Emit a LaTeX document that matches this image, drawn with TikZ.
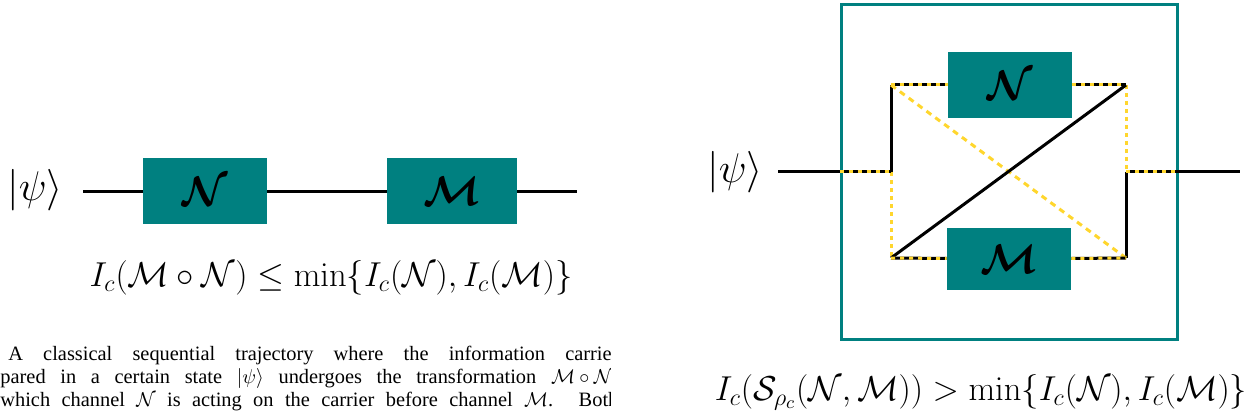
\documentclass[tikz,border=0pt]{standalone}
\usepackage[no-math]{fontspec}
\setmainfont{Liberation Serif}
\usepackage{amsmath}
\usepackage{bm}
\usetikzlibrary{positioning}

\definecolor{chanteal}{RGB}{0,128,128}
\definecolor{gold}{RGB}{255,214,45}

\begin{document}
\begin{tikzpicture}[
  x=0.5pt, y=-0.5pt,
  chan/.style={rectangle, fill=chanteal, minimum width=62pt, minimum height=33pt, inner sep=0pt, font=\fontsize{20}{24}\selectfont},
  wire/.style={line width=1.5pt, black},
  mixed/.style={wire, postaction={draw=gold, dash pattern=on 2pt off 2.5pt}},
  yel/.style={draw=gold, line width=1.5pt, dash pattern=on 2pt off 2pt},
  ket/.style={font=\fontsize{21}{25}\selectfont, inner sep=0pt},
  eq/.style={font=\fontsize{17.2}{20}\selectfont, inner sep=0pt},
  captext/.style={anchor=base west, inner sep=0pt, align=left, font=\fontsize{10.2}{11.5}\selectfont}
]
\useasboundingbox (0,0) rectangle (1248,417);

% Sequential trajectory
\node[ket] (psiA) at (35,190) {$|\psi\rangle$};
\coordinate (inA) at (83,191);
\node[chan] (NA) at (205,191) {$\bm{\mathcal{N}}$};
\node[chan, minimum width=65pt] (MA) at (452,191) {$\bm{\mathcal{M}}$};
\coordinate (outA) at (577,191);
\draw[wire] (inA) -- (NA) -- (MA) -- (outA);

\node[eq] (capA) at (331,278) {$I_c(\mathcal{M}\circ\mathcal{N}) \leq \min\{I_c(\mathcal{N}), I_c(\mathcal{M})\}$};

% Caption (cut at the edge)
\begin{scope}
\clip (0,330) rectangle (610,417);
\node[captext] (capL) at (0,406) {\hspace*{4pt}\makebox[305pt][s]{A classical sequential trajectory where the information carrier}\\
  \makebox[309pt][s]{pared in a certain state \mbox{$|\psi\rangle$} undergoes the transformation \mbox{$\mathcal{M}\circ\mathcal{N}$},}\\
  \makebox[309pt][s]{which channel $\mathcal{N}$ is acting on the carrier before channel $\mathcal{M}$. Both}};
\end{scope}

% Superposition of orders
\node[draw=chanteal, line width=1.5pt, minimum width=168pt, minimum height=167pt, inner sep=0pt] (frame) at (1009,172) {};
\node[ket] (psiB) at (735,172) {$|\psi\rangle$};
\coordinate (inB) at (778,172);
\coordinate (outB) at (1240,172);
\coordinate (jl) at (891,172);
\coordinate (tl) at (891,85);
\coordinate (bl) at (891,258);
\coordinate (jr) at (1126,172);
\coordinate (tr) at (1126,85);
\coordinate (br) at (1126,258);
\node[chan] (NB) at (1010,85) {$\bm{\mathcal{N}}$};
\node[chan, minimum height=31pt] (MB) at (1009,259) {$\bm{\mathcal{M}}$};

\draw[wire] (inB) -- (frame.west);
\draw[wire] (frame.east) -- (outB);
\draw[wire] (jl) -- (tl);
\draw[wire] (jr) -- (br);
\draw[yel] (jl) -- (bl);
\draw[yel] (tr) -- (jr);
\draw[yel, dash pattern=on 3pt off 2.5pt] (tl) -- (br);
\draw[wire] (bl) -- (tr);
\foreach \a/\b in {frame.west/jl, tl/NB, NB/tr, bl/MB, MB/br, jr/frame.east}
  \draw[mixed] (\a) -- (\b);

\node[eq] (capB) at (981,392) {$I_c(\mathcal{S}_{\rho_c}(\mathcal{N},\mathcal{M})) > \min\{I_c(\mathcal{N}), I_c(\mathcal{M})\}$};

\end{tikzpicture}
\end{document}
